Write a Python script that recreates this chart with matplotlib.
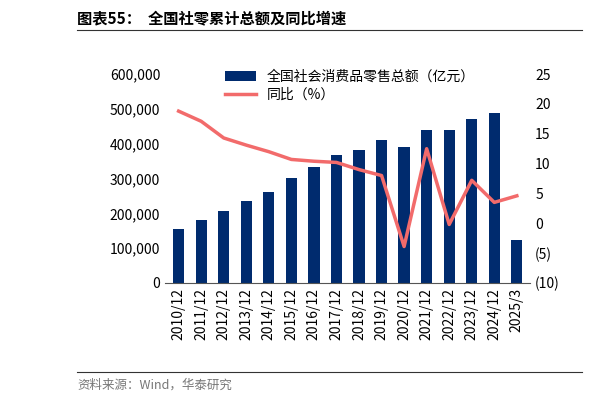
import numpy as np
import matplotlib.pyplot as plt
import matplotlib.ticker as mticker

plt.rcParams["font.family"] = ["Noto Sans CJK SC"]

years = ['2010/12', '2011/12', '2012/12', '2013/12', '2014/12', '2015/12', '2016/12', '2017/12',
         '2018/12', '2019/12', '2020/12', '2021/12', '2022/12', '2023/12', '2024/12', '2025/3']
total = [154500, 181200, 207200, 234400, 262400, 300900, 332300, 366300,
         380900, 411600, 391900, 440800, 439700, 471500, 487900, 124700]
yoy = [18.8, 17.1, 14.3, 13.1, 12.0, 10.7, 10.4, 10.2, 9.0, 8.0, -3.9, 12.5, -0.2, 7.2, 3.5, 4.6]

fig = plt.figure(figsize=(6.16, 4.03), dpi=100)
ax = fig.add_axes([0.268, 0.298, 0.593, 0.518])
x = np.arange(len(years))
ax.bar(x, total, width=0.5, color='#002B6E', label='全国社会消费品零售总额（亿元）')
ax.set_ylim(0, 600000)
ax.set_yticks(range(0, 600001, 100000))
ax.yaxis.set_major_formatter(mticker.FuncFormatter(lambda v, p: f'{int(v):,}'))
ax.set_xlim(-0.6, len(years) - 0.4)
ax.set_xticks(x)
ax.set_xticklabels(years, rotation=90)
ax.tick_params(length=0, labelsize=10)

ax2 = ax.twinx()
ax2.plot(x, yoy, color='#F26B6B', lw=2.5, label='同比（%）')
ax2.set_ylim(-10, 25)
ax2.set_yticks(range(-10, 26, 5))
ax2.yaxis.set_major_formatter(mticker.FuncFormatter(lambda v, p: f'({-int(v)})' if v < 0 else f'{int(v)}'))
ax2.tick_params(length=0, labelsize=10)

for a in (ax, ax2):
    for s in a.spines.values():
        s.set_visible(False)
ax.spines['bottom'].set_visible(True)
ax.spines['bottom'].set_color('#555555')

h1, l1 = ax.get_legend_handles_labels()
h2, l2 = ax2.get_legend_handles_labels()
ax.legend(h1 + h2, l1 + l2, loc='upper left', bbox_to_anchor=(0.13, 1.08), frameon=False,
          fontsize=10, handlelength=2.2, labelspacing=0.3)

fig.text(0.125, 0.955, '图表55：  全国社零累计总额及同比增速', fontsize=11, fontweight='bold', va='center')
fig.add_artist(plt.Line2D([0.125, 0.945], [0.925, 0.925], color='#333333', lw=0.8))
fig.add_artist(plt.Line2D([0.125, 0.945], [0.078, 0.078], color='#333333', lw=0.8))
fig.text(0.125, 0.045, '资料来源：Wind，华泰研究', fontsize=9, color='#777777', va='center')

fig.savefig('out.png', dpi=100)
